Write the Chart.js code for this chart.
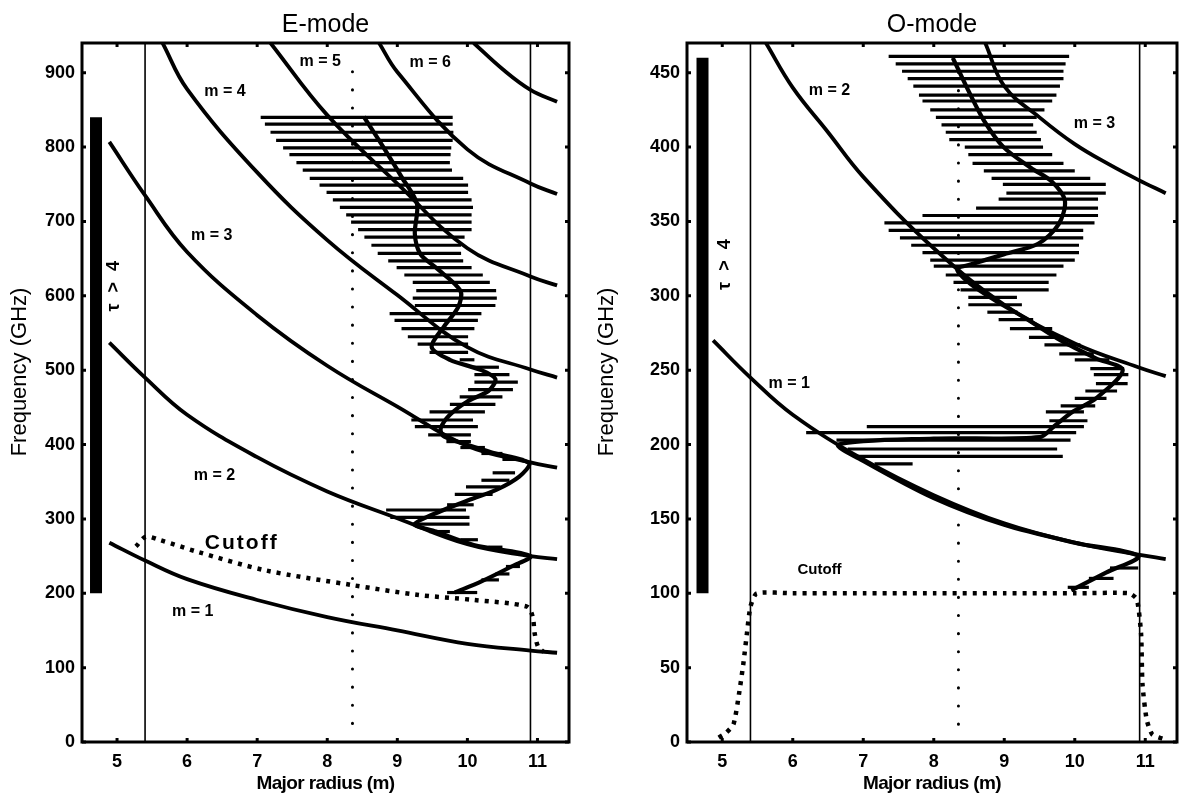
<!DOCTYPE html>
<html>
<head>
<meta charset="utf-8">
<script src="https://cdn.jsdelivr.net/npm/chart.js@4.4.1/dist/chart.umd.min.js"></script>
<style>
  html, body { margin: 0; padding: 0; background: #fff; }
  #wrap { position: relative; width: 1181px; height: 795px; }
  .panel { position: absolute; top: 0; }
</style>
</head>
<body>
<div id="wrap">
  <canvas id="eMode" class="panel" style="left:0" width="590" height="795"></canvas>
  <canvas id="oMode" class="panel" style="left:590px" width="591" height="795"></canvas>
</div>
<script>
// ---------- tick labels ----------
const xTicks = [5, 6, 7, 8, 9, 10, 11]
const eTicksY = [0, 100, 200, 300, 400, 500, 600, 700, 800, 900]
const oTicksY = [0, 50, 100, 150, 200, 250, 300, 350, 400, 450]

// ---------- E-mode harmonics ----------
const eM1X = [4.89, 5.4, 6, 7, 8, 9, 10, 10.9, 11.28]
const eM1Y = [268, 244, 219, 191, 168, 150, 132, 123, 120]
const eM2X = [4.89, 5.4, 6, 7, 8, 9, 10, 10.9, 11.28]
const eM2Y = [537, 490, 440, 383, 337, 301, 266, 250, 246]
const eM3X = [4.89, 5.4, 6, 7, 8, 9, 10, 10.9, 11.28]
const eM3Y = [807, 735, 659, 574, 506, 451, 398, 376, 369]
const eM4X = [5.65, 6, 7, 8, 9, 10, 10.9, 11.28]
const eM4Y = [940, 878, 766, 675, 601, 531, 501, 490]
const eM5X = [7.19, 8, 9, 10, 10.9, 11.28]
const eM5Y = [940, 843, 751, 664, 626, 614]
const eM6X = [8.74, 9, 10, 10.9, 11.28]
const eM6Y = [940, 901, 797, 751, 737]
const eM7X = [10.09, 10.5, 10.9, 11.28]
const eM7Y = [940, 905, 877, 861]

// E-mode cutoff (dotted)
const eCutX = [5.27, 5.41, 5.6, 6.14, 7.11, 8.36, 9.28, 10.09, 10.85, 10.93, 10.96, 11.01, 11.09]
const eCutY = [263, 276, 272, 256, 231, 211, 198, 191, 182, 169, 146, 128, 121]

// E-mode ray path
const eRayX = [8.52, 8.74, 9.06, 9.28, 9.25, 9.33, 9.55, 9.90, 9.87, 9.66, 9.49, 9.75, 10.2, 10.4, 10.3, 10.0, 9.75, 9.62, 9.65, 9.85, 10.36, 10.88, 10.74, 10.41, 10.04, 9.66, 9.25, 9.55, 10.09, 10.9, 10.63, 10.2, 9.82]
const eRayY = [841, 809, 760, 724, 683, 656, 638, 607, 585, 558, 531, 514, 500, 488, 472, 458, 440, 422, 412, 404, 389, 375, 357, 339, 326, 312, 293, 283, 265, 250, 236, 216, 201]

// E-mode horizontal bars (frequency, low R, high R)
const eBarY = [840, 831, 820, 809, 799, 790, 779, 769, 758, 749, 739, 729, 719, 709, 699, 689, 679, 668, 657, 647, 638, 628, 618, 607, 597, 587, 576, 567, 556, 545, 535, 524, 514, 504, 494, 484, 474, 464, 454, 444, 433, 424, 413]
const eBarLo = [7.05, 7.11, 7.19, 7.27, 7.37, 7.46, 7.56, 7.65, 7.75, 7.89, 7.99, 8.08, 8.18, 8.27, 8.34, 8.44, 8.53, 8.63, 8.72, 8.87, 8.99, 9.10, 9.22, 9.27, 9.22, 9.25, 8.89, 8.96, 9.06, 9.15, 9.29, 9.46, 9.89, 10.06, 10.10, 10.10, 10.01, 9.89, 9.75, 9.46, 9.20, 9.25, 9.44]
const eBarHi = [9.79, 9.79, 9.80, 9.79, 9.77, 9.76, 9.75, 9.78, 9.94, 10.01, 10.01, 10.06, 10.08, 10.06, 10.06, 10.06, 9.96, 9.91, 9.91, 9.94, 10.06, 10.22, 10.32, 10.41, 10.42, 10.40, 10.20, 10.15, 10.10, 10.01, 10.01, 10.01, 10.10, 10.45, 10.60, 10.72, 10.65, 10.50, 10.40, 10.25, 10.08, 10.15, 10.05]
const eLowBarY = [404, 396, 388, 380, 362, 352, 343, 333, 319, 312, 302, 293, 283, 272, 262, 236, 226, 218, 201]
const eLowBarLo = [9.7, 9.9, 10.2, 10.5, 10.36, 10.2, 9.98, 9.82, 9.71, 8.84, 8.9, 9.22, 9.45, 9.9, 10.3, 10.55, 10.4, 10.2, 9.71]
const eLowBarHi = [10.05, 10.25, 10.5, 10.8, 10.68, 10.6, 10.47, 10.36, 10.09, 9.98, 10.03, 10.03, 9.75, 10.15, 10.5, 10.75, 10.6, 10.45, 10.14]

// ---------- O-mode harmonics ----------
const oM1X = [4.87, 5.4, 6, 7, 8, 9, 10, 10.9, 11.29]
const oM1Y = [270, 245, 220, 190, 166, 147, 134, 126, 123]
const oM2X = [5.62, 6, 6.5, 7, 8, 9, 10, 10.9, 11.29]
const oM2Y = [470, 440, 410, 380, 332, 294, 268, 252, 246]
const oM3X = [8.73, 9, 9.5, 10, 10.5, 10.9, 11.29]
const oM3Y = [470, 441, 420, 402, 388, 378, 369]

// O-mode cutoff (dotted)
const oCutX = [4.95, 5.05, 5.16, 5.24, 5.3, 5.35, 5.4, 5.49, 6, 7, 8, 9, 10, 10.77, 10.88, 10.94, 10.96, 11.02, 11.1, 11.26]
const oCutY = [3, 6, 12, 33, 53, 73, 91, 100, 100, 100, 100, 100, 100, 100, 96, 73, 39, 15, 5, 2]

// O-mode ray path
const oRayX = [8.27, 8.47, 8.71, 8.99, 9.38, 9.67, 9.86, 9.77, 9.48, 9.0, 8.52, 8.33, 8.52, 8.9, 9.3, 9.8, 10.3, 10.68, 10.3, 9.97, 9.7, 9.5, 8.0, 6.65, 7.0, 8.0, 9.0, 10.0, 10.9, 10.45, 9.95]
const oRayY = [460, 440, 418, 400, 386, 377, 364, 348, 335, 328, 321, 318, 308, 296, 285, 270, 258, 250, 231, 222, 212, 205, 204, 200, 189, 164, 146, 134, 125, 114, 102]

// O-mode horizontal bars
const oBarY = [461, 456, 451, 446, 441, 435, 431, 425, 420, 415, 410, 405, 400, 395, 389, 384, 379, 375, 369, 365, 359, 354, 349, 344, 339, 334, 329, 324, 320, 314, 309, 304, 299, 294, 289, 284, 278, 272, 267, 261, 257, 251, 247]
const oBarLo = [7.36, 7.46, 7.55, 7.63, 7.71, 7.79, 7.84, 7.95, 8.03, 8.11, 8.17, 8.22, 8.44, 8.49, 8.55, 8.71, 8.82, 8.98, 9.03, 8.92, 8.6, 7.84, 7.3, 7.36, 7.52, 7.68, 7.84, 7.95, 8.0, 8.17, 8.28, 8.38, 8.49, 8.49, 8.76, 8.92, 9.08, 9.35, 9.57, 9.78, 10.0, 10.22, 10.27]
const oBarHi = [9.92, 9.87, 9.84, 9.84, 9.79, 9.74, 9.68, 9.57, 9.46, 9.41, 9.46, 9.52, 9.55, 9.68, 9.84, 10.0, 10.22, 10.44, 10.44, 10.33, 10.33, 10.33, 10.28, 10.12, 10.12, 10.06, 10.06, 10.0, 9.84, 9.74, 9.63, 9.63, 9.18, 9.25, 9.19, 9.41, 9.68, 9.84, 10.08, 10.27, 10.49, 10.7, 10.76]
const oLowBarY = [241, 236, 231, 226, 222, 216, 212, 208, 203, 197, 192, 187, 117, 110, 104]
const oLowBarLo = [10.3, 10.15, 10.0, 9.8, 9.59, 9.64, 7.05, 6.19, 6.62, 6.78, 6.89, 7.16, 10.5, 10.2, 9.9]
const oLowBarHi = [10.75, 10.6, 10.45, 10.29, 10.13, 10.18, 10.13, 10.02, 9.94, 9.75, 9.83, 7.7, 10.9, 10.55, 10.2]

// ---------- helpers ----------
const FONT = "'Liberation Sans', Arial, Helvetica, sans-serif"

function pts(xs, ys) {
  return xs.map((x, i) => ({ x: x, y: ys[i] }))
}

function line(xs, ys, width, extra) {
  return Object.assign({
    data: pts(xs, ys),
    showLine: true,
    borderColor: "#000",
    backgroundColor: "#000",
    borderWidth: width,
    pointRadius: 0,
    tension: 0.4,
    fill: false
  }, extra || {})
}

// frame with small inward ticks on all four sides
const framePlugin = {
  id: "frame",
  afterDraw(chart) {
    const { ctx, chartArea: a, scales } = chart
    ctx.save()
    ctx.strokeStyle = "#000"
    ctx.lineWidth = 3
    ctx.strokeRect(a.left, a.top, a.right - a.left, a.bottom - a.top)
    scales.x.ticks.forEach(t => {
      const px = scales.x.getPixelForValue(t.value)
      ctx.beginPath()
      ctx.moveTo(px, a.bottom); ctx.lineTo(px, a.bottom - 4)
      ctx.moveTo(px, a.top); ctx.lineTo(px, a.top + 4)
      ctx.stroke()
    })
    scales.y.ticks.forEach(t => {
      const py = scales.y.getPixelForValue(t.value)
      ctx.beginPath()
      ctx.moveTo(a.left, py); ctx.lineTo(a.left + 4, py)
      ctx.moveTo(a.right, py); ctx.lineTo(a.right - 4, py)
      ctx.stroke()
    })
    ctx.restore()
  }
}

// horizontal bars drawn through the chart scales
function makeBars(sets) {
  return {
    id: "bars",
    beforeDatasetsDraw(chart) {
      const { ctx, chartArea: a, scales: { x, y } } = chart
      ctx.save()
      ctx.beginPath()
      ctx.rect(a.left, a.top, a.right - a.left, a.bottom - a.top)
      ctx.clip()
      ctx.strokeStyle = "#000"
      ctx.lineWidth = 3.2
      sets.forEach(s => {
        s.y.forEach((v, i) => {
          const py = y.getPixelForValue(v)
          ctx.beginPath()
          ctx.moveTo(x.getPixelForValue(s.lo[i]), py)
          ctx.lineTo(x.getPixelForValue(s.hi[i]), py)
          ctx.stroke()
        })
      })
      ctx.restore()
    }
  }
}

// titles, axis titles and labels placed in data coordinates
function makeNotes(cfg) {
  return {
    id: "notes",
    afterDraw(chart) {
      const { ctx, chartArea: a, scales: { x, y } } = chart
      const cx = (a.left + a.right) / 2
      ctx.save()
      ctx.fillStyle = "#000"
      ctx.textAlign = "center"
      ctx.textBaseline = "alphabetic"
      ctx.font = "25px " + FONT
      ctx.fillText(cfg.title, cx, 32)

      ctx.textBaseline = "middle"
      ctx.save()
      ctx.font = "bold 19px " + FONT
      ctx.letterSpacing = "-0.6px"
      ctx.fillText("Major radius (m)", cx, 784)
      ctx.restore()

      ctx.save()
      ctx.font = "22px " + FONT
      ctx.translate(cfg.yTitleX, 372)
      ctx.rotate(-Math.PI / 2)
      ctx.fillText("Frequency (GHz)", 0, 0)
      ctx.restore()

      cfg.notes.forEach(n => {
        ctx.save()
        ctx.font = n.font
        if (n.spacing) ctx.letterSpacing = n.spacing
        ctx.translate(x.getPixelForValue(n.x), y.getPixelForValue(n.y))
        if (n.rotate) ctx.rotate(n.rotate)
        ctx.fillText(n.text, 0, 0)
        ctx.restore()
      })
      ctx.restore()
    }
  }
}

function panel(id, cfg) {
  const tickFont = { family: FONT, size: 18, weight: "bold" }
  return new Chart(document.getElementById(id), {
    type: "scatter",
    data: { datasets: cfg.datasets },
    options: {
      responsive: false,
      animation: false,
      events: [],
      layout: { padding: { left: 0, right: cfg.right, top: 43, bottom: 0 } },
      plugins: { legend: { display: false }, tooltip: { enabled: false } },
      scales: {
        x: {
          type: "linear",
          min: 4.5,
          max: 11.45,
          afterBuildTicks: s => { s.ticks = xTicks.map(v => ({ value: v })) },
          afterFit: s => { s.height = 53 },
          grid: { display: false, drawTicks: false },
          border: { display: false },
          ticks: { color: "#000", font: tickFont, padding: 9, maxRotation: 0 }
        },
        y: {
          type: "linear",
          min: 0,
          max: cfg.yMax,
          afterBuildTicks: s => { s.ticks = cfg.yTicks.map(v => ({ value: v })) },
          afterFit: s => { s.width = cfg.left },
          grid: { display: false, drawTicks: false },
          border: { display: false },
          ticks: { color: "#000", font: tickFont, padding: 7 }
        }
      }
    },
    plugins: [makeBars(cfg.bars), framePlugin, makeNotes(cfg)]
  })
}

const thin = 1.6
const harm = 3.8
const labelFont = "bold 16px " + FONT
const tauFont = "bold 18px " + FONT

panel("eMode", {
  title: "E-mode",
  right: 21,
  left: 82,
  yTitleX: 20,
  yMax: 940,
  yTicks: eTicksY,
  bars: [
    { y: eBarY, lo: eBarLo, hi: eBarHi },
    { y: eLowBarY, lo: eLowBarLo, hi: eLowBarHi }
  ],
  datasets: [
    line([5.4, 5.4], [0, 940], thin, { tension: 0 }),
    line([10.9, 10.9], [0, 940], thin, { tension: 0 }),
    line([8.36, 8.36], [25, 920], 3, { tension: 0, borderDash: [0.1, 18], borderCapStyle: "round" }),
    line([4.7, 4.7], [200, 840], 12, { tension: 0, borderCapStyle: "butt" }),
    line(eM1X, eM1Y, harm),
    line(eM2X, eM2Y, harm),
    line(eM3X, eM3Y, harm),
    line(eM4X, eM4Y, harm),
    line(eM5X, eM5Y, harm),
    line(eM6X, eM6Y, harm),
    line(eM7X, eM7Y, harm),
    line(eCutX, eCutY, 4.5, { tension: 0.3, borderDash: [4, 6] }),
    line(eRayX, eRayY, 4.2, { tension: 0.3 })
  ],
  notes: [
    { text: "m = 1", x: 6.08, y: 175, font: labelFont },
    { text: "m = 2", x: 6.39, y: 358, font: labelFont },
    { text: "m = 3", x: 6.35, y: 681, font: labelFont },
    { text: "m = 4", x: 6.54, y: 874, font: labelFont },
    { text: "m = 5", x: 7.9, y: 915, font: labelFont },
    { text: "m = 6", x: 9.47, y: 913, font: labelFont },
    { text: "Cutoff", x: 6.78, y: 267, font: "bold 21px " + FONT, spacing: "2px" },
    { text: "\u03c4 > 4", x: 4.96, y: 615, font: tauFont, spacing: "3px", rotate: -Math.PI / 2 }
  ]
})

panel("oMode", {
  title: "O-mode",
  right: 4,
  left: 97,
  yTitleX: 17,
  yMax: 470,
  yTicks: oTicksY,
  bars: [
    { y: oBarY, lo: oBarLo, hi: oBarHi },
    { y: oLowBarY, lo: oLowBarLo, hi: oLowBarHi }
  ],
  datasets: [
    line([5.4, 5.4], [0, 470], thin, { tension: 0 }),
    line([10.92, 10.92], [0, 470], thin, { tension: 0 }),
    line([8.35, 8.35], [12, 460], 3, { tension: 0, borderDash: [0.1, 18], borderCapStyle: "round" }),
    line([4.72, 4.72], [100, 460], 12, { tension: 0, borderCapStyle: "butt" }),
    line(oM1X, oM1Y, harm),
    line(oM2X, oM2Y, harm),
    line(oM3X, oM3Y, harm),
    line(oCutX, oCutY, 4.5, { tension: 0.2, borderDash: [4, 6] }),
    line(oRayX, oRayY, 4.2, { tension: 0.3 })
  ],
  notes: [
    { text: "m = 1", x: 5.95, y: 241, font: labelFont },
    { text: "m = 2", x: 6.52, y: 438, font: labelFont },
    { text: "m = 3", x: 10.28, y: 416, font: labelFont },
    { text: "Cutoff", x: 6.38, y: 116, font: "bold 15px " + FONT },
    { text: "\u03c4 > 4", x: 5.04, y: 322, font: tauFont, spacing: "3px", rotate: -Math.PI / 2 }
  ]
})
</script>
</body>
</html>
